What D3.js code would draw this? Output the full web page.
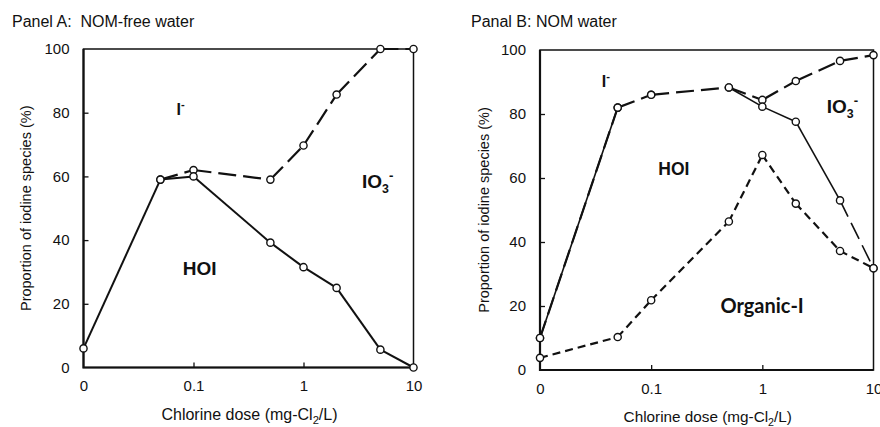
<!DOCTYPE html>
<html>
<head>
<meta charset="utf-8">
<script src="https://cdn.jsdelivr.net/npm/d3@7"></script>
<style>
	body { margin: 0; background: #fff; }
	text { font-family: "Liberation Sans", Arial, sans-serif; fill: #111; white-space: pre; }
</style>
</head>
<body>
<svg id="chart" width="880" height="427"></svg>
<script>
// chlorine doses (0 is drawn at the 0.01 position of the log axis)
var doses = [0, 0.05, 0.1, 0.5, 1, 2, 5, 10];
var xTicks = [0, 0.1, 1, 10];
var xTickLabels = ["0", "0.1", "1", "10"];
var yTicks = [0, 20, 40, 60, 80, 100];

// Panel A: NOM-free water
var aHoiTop = [6, 59, 60, 39.2, 31.5, 25, 5.6, 0];
var aIodide = [null, 59, 62, 59, 69.7, 85.7, 100, 100];

// Panel B: NOM water
var bIodide = [10, 82, 86, 88.3, 84.4, 90.3, 96.6, 98.4];
var bHoiTop = [10, 82, 86, 88.3, 82.3, 77.6, 53, 31.8];
var bOrganic = [3.8, 10.3, 21.8, 46.4, 67.2, 52, 37.2, 31.8];

var LONG = "18,7", SHORT = "8,5";

var svg = d3.select("#chart");

function xv(d) { return d === 0 ? 0.01 : d; }

function drawPanel(p) {
	var x = d3.scaleLog().domain([0.01, 10]).range([p.left, p.right]);
	var y = d3.scaleLinear().domain([0, 100]).range([p.bottom, p.top]);
	var g = svg.append("g");

	g.append("text")
		.attr("x", p.titleX).attr("y", 27)
		.style("font-size", p.titleSize + "px")
		.text(p.title);

	// frame
	g.append("rect")
		.attr("x", p.left).attr("y", p.top)
		.attr("width", p.right - p.left).attr("height", p.bottom - p.top)
		.style("fill", "none").style("stroke", "#111").style("stroke-width", 1.5);
	g.append("path")
		.attr("d", "M" + p.left + "," + p.top + "V" + p.bottom + "H" + p.right)
		.style("fill", "none").style("stroke", "#111").style("stroke-width", 2.2);

	// axes with inside ticks
	var xAxis = d3.axisBottom(x).tickValues(xTicks.map(xv))
		.tickSize(-5).tickPadding(13)
		.tickFormat(function(d, i) { return xTickLabels[i]; });
	var yAxis = d3.axisLeft(y).tickValues(yTicks)
		.tickSize(-5).tickPadding(14);

	var gx = g.append("g").attr("transform", "translate(0," + p.bottom + ")").call(xAxis);
	var gy = g.append("g").attr("transform", "translate(" + p.left + ",0)").call(yAxis);
	[gx, gy].forEach(function(a) {
		a.select(".domain").remove();
		a.selectAll("line").style("stroke", "#111").style("stroke-width", 1.3);
		a.selectAll("text")
			.style("font-family", "\"Liberation Sans\", Arial, sans-serif")
			.style("font-size", "15px").style("fill", "#111");
	});
	gx.selectAll(".tick").filter(function(d) { return d === 0.01 || d === 10; })
		.select("line").remove();
	gy.selectAll(".tick").filter(function(d) { return d === 0 || d === 100; })
		.select("line").remove();

	// axis titles
	var xt = g.append("text")
		.attr("x", (p.left + p.right) / 2 + 1).attr("y", p.bottom + 52)
		.attr("text-anchor", "middle")
		.style("font-size", p.xTitleSize + "px");
	xt.append("tspan").text("Chlorine dose (mg-Cl");
	xt.append("tspan").attr("dy", 4).style("font-size", (p.xTitleSize * 0.7) + "px").text("2");
	xt.append("tspan").attr("dy", -4).text("/L)");

	g.append("text")
		.attr("transform", "translate(" + p.yTitleX + "," + ((p.top + p.bottom) / 2) + ") rotate(-90)")
		.attr("text-anchor", "middle")
		.style("font-size", "14.5px")
		.text("Proportion of iodine species (%)");

	// series
	p.series.forEach(function(s) {
		var pts = [];
		s.values.forEach(function(v, i) {
			if (v !== null) pts.push([xv(doses[i]), v]);
		});
		for (var i = 0; i < pts.length - 1; i++) {
			var dash = s.dashes ? s.dashes[i] : s.dash;
			if (dash === "none") continue;
			g.append("line")
				.attr("x1", x(pts[i][0])).attr("y1", y(pts[i][1]))
				.attr("x2", x(pts[i + 1][0])).attr("y2", y(pts[i + 1][1]))
				.style("stroke", "#111")
				.style("stroke-width", s.width || 2)
				.style("stroke-dasharray", dash || null);
		}
		g.selectAll(null).data(pts).enter().append("circle")
			.attr("cx", function(d) { return x(d[0]); })
			.attr("cy", function(d) { return y(d[1]); })
			.attr("r", 3.6)
			.style("fill", "#fff").style("stroke", "#111").style("stroke-width", 1.4);
	});

	// region labels
	p.labels.forEach(function(l) {
		var t = g.append("text")
			.attr("x", x(l.x)).attr("y", y(l.y))
			.style("font-weight", "bold")
			.style("font-size", l.size + "px");
		if (l.font) t.style("font-family", l.font);
		t.append("tspan").text(l.text);
		if (l.sub) t.append("tspan").attr("dy", 5).style("font-size", (l.size * 0.65) + "px").text(l.sub);
		if (l.sup) t.append("tspan").attr("dy", l.sub ? -13 : -7).style("font-size", (l.size * 0.7) + "px").text(l.sup);
	});
}

drawPanel({
	title: "Panel A:  NOM-free water", titleX: 12, titleSize: 16,
	left: 83.5, right: 413.5, top: 49, bottom: 367.5, yTitleX: 31, xTitleSize: 16,
	series: [
		{ values: aIodide, dash: LONG, width: 2.2 },
		{ values: aHoiTop, width: 2 }
	],
	labels: [
		{ text: "I", sup: "-", x: 0.07, y: 79.3, size: 16 },
		{ text: "HOI", x: 0.08, y: 29, size: 19 },
		{ text: "IO", sub: "3", sup: "-", x: 3.4, y: 56.4, size: 19 }
	]
});

drawPanel({
	title: "Panal B: NOM water", titleX: 471, titleSize: 16,
	left: 540, right: 873.5, top: 50, bottom: 370, yTitleX: 489, xTitleSize: 15.3,
	series: [
		{ values: bIodide, dash: LONG, width: 2.2 },
		{ values: bHoiTop, dashes: [null, "none", "none", null, null, null, LONG], width: 1.6 },
		{ values: bOrganic, dash: SHORT, width: 2.2 }
	],
	labels: [
		{ text: "I", sup: "-", x: 0.036, y: 88.4, size: 16 },
		{ text: "HOI", x: 0.116, y: 60.9, size: 17.5 },
		{ text: "IO", sub: "3", sup: "-", x: 3.8, y: 80.3, size: 19 },
		{ text: "Organic-I", x: 0.42, y: 17.8, size: 20, font: "Lato, \"Open Sans\", sans-serif" }
	]
});
</script>
</body>
</html>
